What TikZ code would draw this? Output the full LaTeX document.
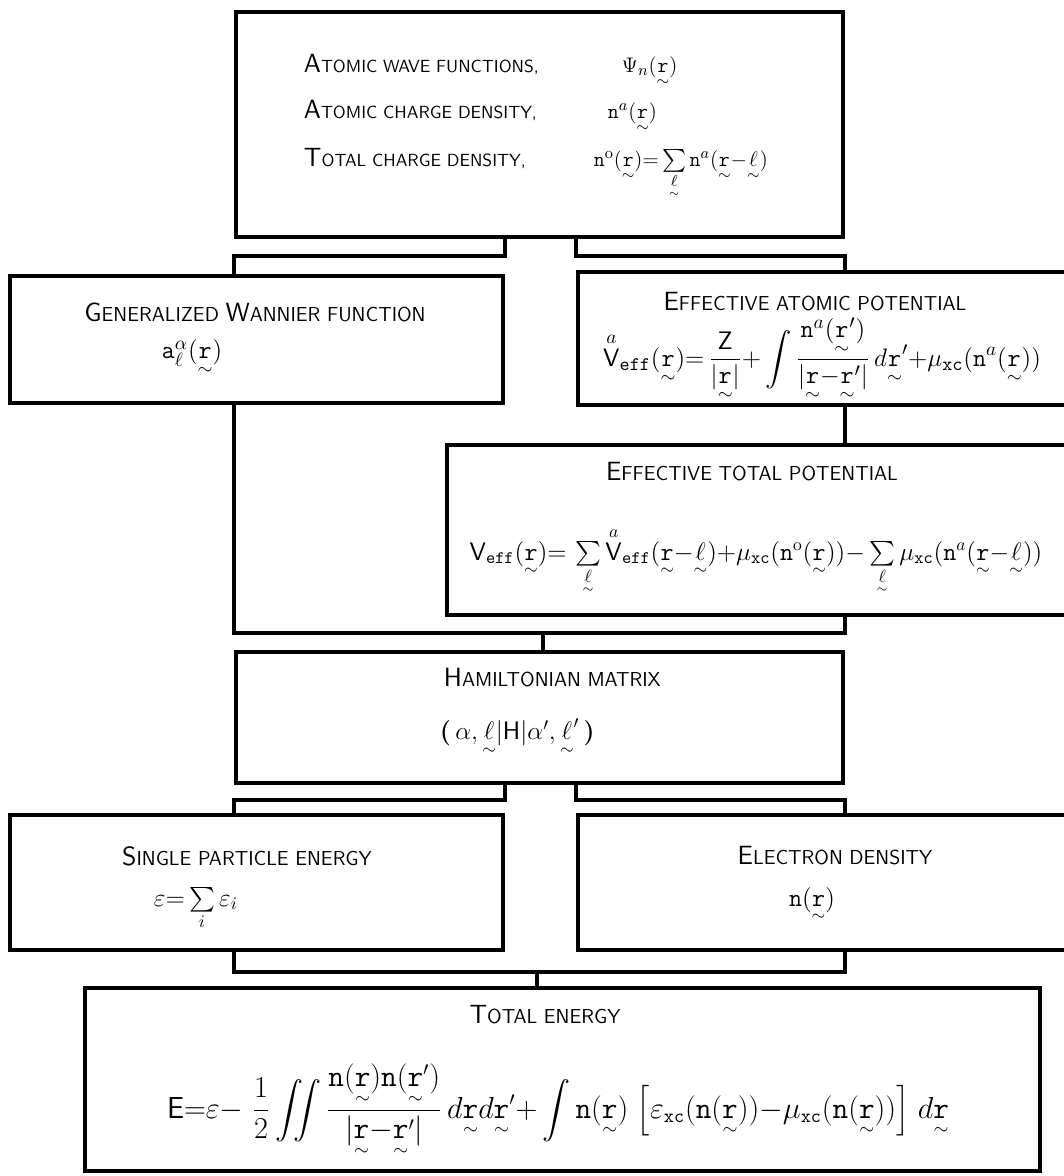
\documentclass[tikz,border=0pt]{standalone}
\usepackage{amsmath}
\usepackage{amssymb}
\usepackage{tikz}
\usetikzlibrary{fit}

\newcommand{\rv}{\underset{\sim}{\mathtt{r}}}
\newcommand{\lv}{\underset{\sim}{\ell}}
\newcommand{\nt}{\mathtt{n}}
\newcommand{\Vs}{\mathsf{V}}
\newcommand{\ef}{\mathtt{eff}}
\newcommand{\xc}{\mathtt{xc}}
\newcommand{\capl}[1]{{\fontsize{15}{17}\selectfont #1}}

\begin{document}
\begin{tikzpicture}[x=0.02cm, y=-0.02cm, line width=2.4pt,
  blk/.style={draw, inner sep=0pt},
  ttl/.style={font=\sffamily\fontsize{11.5}{14}\selectfont},
  lbl/.style={font=\sffamily\fontsize{10}{12}\selectfont},
  frm/.style={font=\fontsize{13}{16}\selectfont}]
  \useasboundingbox (0,0) rectangle (1063,1176);

  % boxes
  \node[blk, fit={(236,12) (843,237)}] (top) {};
  \node[blk, fit={(10,276) (503,403)}] (wan) {};
  \node[blk, fit={(578,272) (1068,405)}] (atm) {};
  \node[blk, fit={(447,445) (1068,615)}] (tot) {};
  \node[blk, fit={(236,652) (843,783)}] (ham) {};
  \node[blk, fit={(10,815) (503,950)}] (spe) {};
  \node[blk, fit={(578,815) (1068,950)}] (eld) {};
  \node[blk, fit={(85,988) (1040,1171)}] (ene) {};

  % junctions
  \coordinate (j1) at (540,256);
  \coordinate (j2) at (543,633);
  \coordinate (j3) at (540,800);
  \coordinate (j4) at (537,972);

  % top box
  \node[lbl, anchor=base west] (l1) at (296,72) {\capl{A}TOMIC WAVE FUNCTIONS,};
  \node[lbl, anchor=base west] (l2) at (296,118) {\capl{A}TOMIC CHARGE DENSITY,};
  \node[lbl, anchor=base west] (l3) at (296,166) {\capl{T}OTAL CHARGE DENSITY,};
  \node[frm, anchor=base west] (f1) at (614,72) {$\Psi_{n}(\rv)$};
  \node[frm, anchor=base west] (f2) at (600,118) {$\nt^{a}(\rv)$};
  \node[frm, anchor=base west] (f3) at (586,166) {$\nt^{\mathrm{o}}(\rv){=}\sum\limits_{\lv}\nt^{a}(\rv{-}\lv)$};

  % second row
  \node[ttl] (t1) at (255,312) {\capl{G}ENERALIZED \capl{W}ANNIER FUNCTION};
  \node[frm, font=\fontsize{15}{18}\selectfont] (g1) at (192,358) {$\mathtt{a}^{\alpha}_{\ell}(\rv)$};
  \node[ttl] (t2) at (815,302) {\capl{E}FFECTIVE ATOMIC POTENTIAL};
  \node[frm, font=\fontsize{15}{18}\selectfont] (g2) at (822,360) {$\overset{a}{\Vs}_{\ef}(\rv){=}\,\dfrac{\mathsf{Z}}{|\rv|}{+}\displaystyle\int\dfrac{\nt^{a}(\rv')}{|\rv{-}\rv'|}\,d\rv'{+}\mu_{\xc}(\nt^{a}(\rv))$};

  % effective total potential
  \node[ttl] (t3) at (752,472) {\capl{E}FFECTIVE TOTAL POTENTIAL};
  \node[frm, font=\fontsize{14}{17}\selectfont, anchor=base] (g3) at (756,560) {$\Vs_{\ef}(\rv){=}\,\sum\limits_{\lv}\overset{a}{\Vs}_{\ef}(\rv{-}\lv){+}\mu_{\xc}(\nt^{\mathrm{o}}(\rv)){-}\sum\limits_{\lv}\mu_{\xc}(\nt^{a}(\rv{-}\lv))$};

  % hamiltonian
  \node[ttl, anchor=west] (t4) at (436,678) {\capl{H}AMILTONIAN MATRIX};
  \node[frm, font=\fontsize{14}{17}\selectfont, anchor=west] (g4) at (432,738) {$\boldsymbol{(}\,\alpha,\lv|\mathsf{H}|\alpha',\lv'\,\boldsymbol{)}$};

  % fourth row
  \node[ttl] (t5) at (247,856) {\capl{S}INGLE PARTICLE ENERGY};
  \node[frm, font=\fontsize{14}{16}\selectfont, anchor=base west] (g5) at (146,906) {$\varepsilon{=}\sum\limits_{i}\varepsilon_{i}$};
  \node[ttl] (t6) at (835,856) {\capl{E}LECTRON DENSITY};
  \node[frm, font=\fontsize{14}{16}\selectfont, anchor=base] (g6) at (812,906) {$\nt(\rv)$};

  % total energy
  \node[ttl] (t7) at (545,1015) {\capl{T}OTAL ENERGY};
  \node[frm, font=\fontsize{16}{19}\selectfont, anchor=base] (g7) at (558,1118) {$\mathsf{E}{=}\varepsilon{-}\;\dfrac{1}{2}\displaystyle\iint\dfrac{\nt(\rv)\nt(\rv')}{|\rv{-}\rv'|}\,d\rv d\rv'{+}\int\nt(\rv)\;\Big[\varepsilon_{\xc}(\nt(\rv)){-}\mu_{\xc}(\nt(\rv))\Big]\;d\rv$};

  % connectors
  \draw (top.south -| wan.east) -- (j1 -| wan.east) -| (wan.north -| top.west);
  \draw (top.south -| atm.west) -- (j1 -| atm.west) -| (atm.north -| top.east);
  \draw (atm.south -| top.east) -- (tot.north -| top.east);
  \draw (wan.south -| top.west) |- (j2 -| top.east) -- (tot.south -| top.east);
  \draw (j2) -- (ham.north -| j2);
  \draw (ham.south -| spe.east) -- (j3 -| spe.east) -| (spe.north -| ham.west);
  \draw (ham.south -| eld.west) -- (j3 -| eld.west) -| (eld.north -| ham.east);
  \draw (spe.south -| ham.west) |- (j4 -| ham.east) -- (eld.south -| ham.east);
  \draw (j4) -- (ene.north -| j4);
\end{tikzpicture}
\end{document}
